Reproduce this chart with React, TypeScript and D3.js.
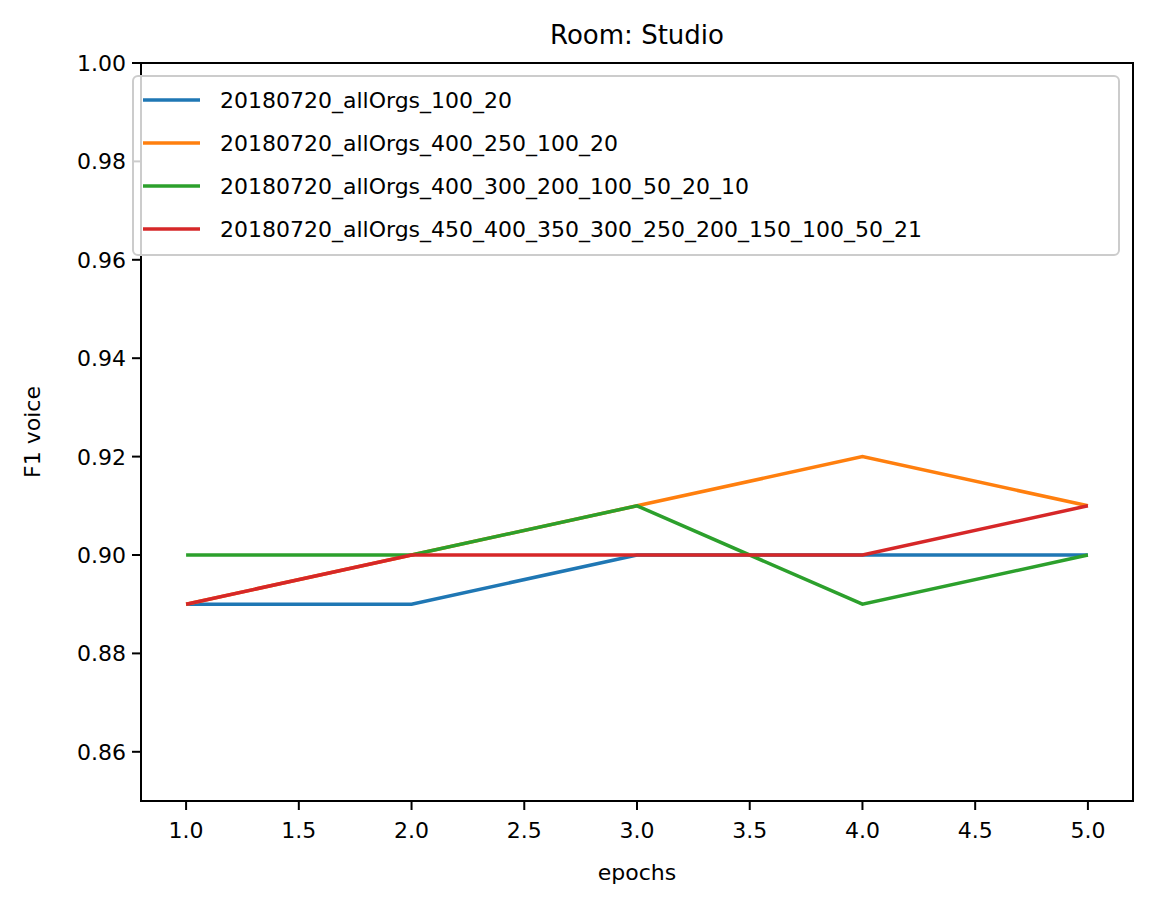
import * as React from "react";
import * as d3 from "d3";

const epochs = [1, 2, 3, 4, 5];
const seriesNames = [
  "20180720_allOrgs_100_20",
  "20180720_allOrgs_400_250_100_20",
  "20180720_allOrgs_400_300_200_100_50_20_10",
  "20180720_allOrgs_450_400_350_300_250_200_150_100_50_21",
];
const seriesColors = ["#1f77b4", "#ff7f0e", "#2ca02c", "#d62728"];
const blueVals = [0.89, 0.89, 0.9, 0.9, 0.9];
const orangeVals = [0.89, 0.9, 0.91, 0.92, 0.91];
const greenVals = [0.9, 0.9, 0.91, 0.89, 0.9];
const redVals = [0.89, 0.9, 0.9, 0.9, 0.91];
const xTicks = [1, 1.5, 2, 2.5, 3, 3.5, 4, 4.5, 5];
const yTicks = [0.86, 0.88, 0.9, 0.92, 0.94, 0.96, 0.98, 1.0];

export default function App() {
  const W = 1156, H = 908;
  const left = 141, right = 1133, top = 63, bottom = 801;
  const x = d3.scaleLinear().domain([0.8, 5.2]).range([left, right]);
  const y = d3.scaleLinear().domain([0.85, 1.0]).range([bottom, top]);
  const all = [blueVals, orangeVals, greenVals, redVals];
  const line = d3.line<number>().x((_, i) => x(epochs[i])).y((d) => y(d));
  const fs = 22;

  return (
    <svg width={W} height={H} style={{ position: "absolute", left: 0, top: 0, background: "#fff" }} fontFamily="'DejaVu Sans', sans-serif">
      {all.map((vals, i) => (
        <path key={i} d={line(vals) || ""} fill="none" stroke={seriesColors[i]} strokeWidth={3.5} />
      ))}
      <rect x={left} y={top} width={right - left} height={bottom - top} fill="none" stroke="#000" strokeWidth={2} />
      {xTicks.map((t) => (
        <g key={t}>
          <line x1={x(t)} x2={x(t)} y1={bottom} y2={bottom + 9} stroke="#000" strokeWidth={2} />
          <text x={x(t)} y={bottom + 37} textAnchor="middle" fontSize={fs}>{t.toFixed(1)}</text>
        </g>
      ))}
      {yTicks.map((t) => (
        <g key={t}>
          <line x1={left - 9} x2={left} y1={y(t)} y2={y(t)} stroke="#000" strokeWidth={2} />
          <text x={left - 15} y={y(t) + 8} textAnchor="end" fontSize={fs}>{t.toFixed(2)}</text>
        </g>
      ))}
      <text x={(left + right) / 2} y={880} textAnchor="middle" fontSize={fs}>epochs</text>
      <text transform={`translate(40,${(top + bottom) / 2}) rotate(-90)`} textAnchor="middle" fontSize={fs}>F1 voice</text>
      <text x={(left + right) / 2} y={44} textAnchor="middle" fontSize={26}>Room: Studio</text>
      <rect x={133} y={76} width={986} height={179} rx={5} fill="#fff" fillOpacity={0.8} stroke="#ccc" strokeWidth={2} />
      {seriesNames.map((n, i) => (
        <g key={n}>
          <line x1={143} x2={200} y1={100 + i * 43} y2={100 + i * 43} stroke={seriesColors[i]} strokeWidth={3.5} />
          <text x={220} y={100 + i * 43 + 8} fontSize={fs}>{n}</text>
        </g>
      ))}
    </svg>
  );
}
